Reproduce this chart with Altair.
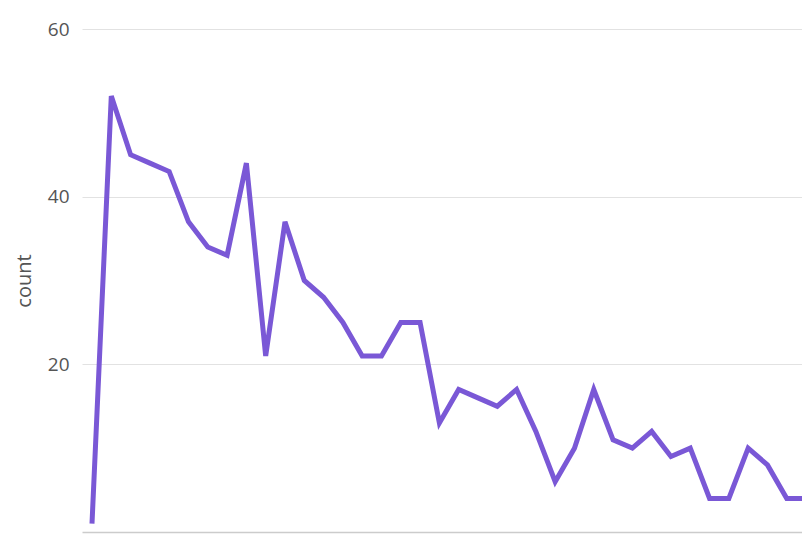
import altair as alt
import pandas as pd

# x positions (sequence index) and counts
index = list(range(39))
counts = [1, 52, 45, 44, 43, 37, 34, 33, 44, 21,
          37, 30, 28, 25, 21, 21, 25, 25, 13, 17,
          16, 15, 17, 12, 6, 10, 17, 11, 10, 12,
          9, 10, 4, 4, 10, 8, 4, 4, 7]
y_ticks = [20, 40, 60]

df = pd.DataFrame({"idx": index, "count": counts})

chart = alt.Chart(df).mark_line(
    color="#7a58d6", strokeWidth=5, clip=True, strokeJoin="miter"
).encode(
    x=alt.X(
        "idx:Q",
        scale=alt.Scale(domain=[-0.518, 36.79], nice=False, zero=False),
        axis=alt.Axis(labels=False, ticks=False, grid=False, title=None,
                      domainColor="#cccccc", domainWidth=1.5),
    ),
    y=alt.Y(
        "count:Q",
        scale=alt.Scale(domain=[0, 60], nice=False),
        axis=alt.Axis(values=y_ticks, ticks=False, domain=False,
                      gridColor="#e2e2e2", gridWidth=1,
                      labelFont="Open Sans", labelFontSize=19, labelColor="#555555",
                      labelPadding=13,
                      title="count", titleFont="Open Sans", titleFontSize=20,
                      titleFontWeight="normal", titleColor="#555555",
                      titlePadding=13),
    ),
).properties(
    width=720,
    height=503,
    autosize=alt.AutoSizeParams(type="none"),
    padding={"left": 74, "top": 21, "right": 0, "bottom": 6},
).configure_view(stroke=None)

chart.save("out.html", embed_options={"renderer": "svg", "actions": False})
